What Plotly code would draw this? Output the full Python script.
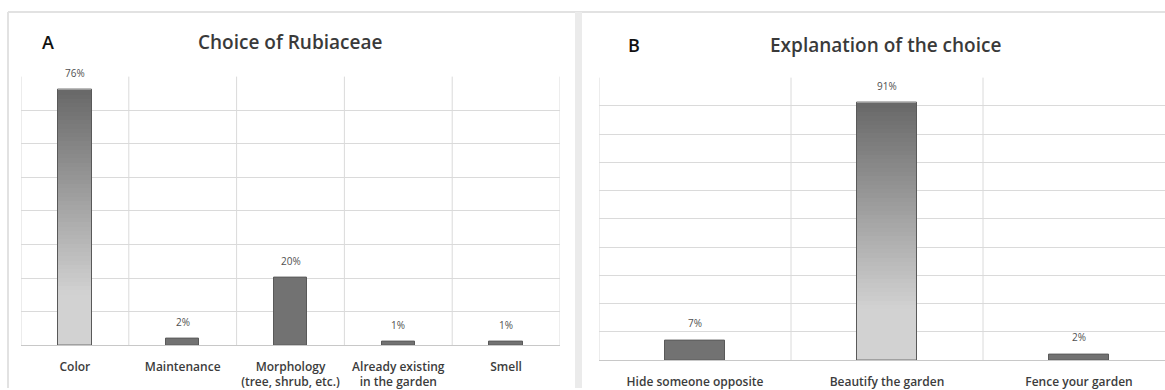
import plotly.graph_objects as go

# Panel A: choice of Rubiaceae
choice_labels = ["Color", "Maintenance", "Morphology<br>(tree, shrub, etc.)",
                 "Already existing<br>in the garden", "Smell"]
choice_values = [76, 2, 20, 1, 1]

# Panel B: explanation of the choice
reason_labels = ["Hide someone opposite", "Beautify the garden", "Fence your garden"]
reason_values = [7, 91, 2]

W, H = 1165, 390
GRID = "#dadada"
BAR = "#727272"
EDGE = "#595959"
TXT = "#3c3c3c"
FONT = "Open Sans"


def px_x(p):
    return p / W


def px_y(p):
    return 1 - p / H


def gradient_colour(t, dark=0x68, light=0xd2, reach=0.8):
    f = min(1.0, t / reach)
    v = int(round(dark + (light - dark) * f))
    return f"rgb({v},{v},{v})"


fig = go.Figure()


def add_panel(labels, values, xa, ya, xname, yname, ymax, x_end, n_slices=60):
    n = len(values)
    xs = list(range(n))
    top = max(range(n), key=lambda i: values[i])

    # gradient body of the tallest bar, built from stacked slices of its value
    v = values[top]
    step = v / n_slices
    fig.add_trace(go.Bar(
        x=[top] * n_slices,
        y=[step] * n_slices,
        base=[v - (k + 1) * step for k in range(n_slices)],
        width=0.31,
        marker=dict(color=[gradient_colour((k + 0.5) / n_slices) for k in range(n_slices)],
                    line=dict(width=0)),
        xaxis=xname, yaxis=yname, showlegend=False, hoverinfo="skip",
    ))
    # all bars: solid fill for the others, outline for every bar
    fig.add_trace(go.Bar(
        x=xs, y=values, width=0.31,
        marker=dict(color=["rgba(0,0,0,0)" if i == top else BAR for i in range(n)],
                    line=dict(color=EDGE, width=1)),
        xaxis=xname, yaxis=yname, showlegend=False,
        hovertemplate="%{y}%<extra></extra>",
    ))
    # value labels
    for i, val in enumerate(values):
        fig.add_annotation(
            x=i, y=val, xref=xname, yref=yname, text=f"{val}%",
            showarrow=False, xanchor="center", yanchor="bottom", yshift=8,
            font=dict(family=FONT, size=10, color="#505050"),
        )
    # vertical separators between categories
    for k in range(n + 1):
        xv = k - 0.5
        fig.add_shape(type="line", x0=xv, x1=xv, y0=0, y1=1,
                      xref=xname, yref=f"{yname} domain",
                      line=dict(color=GRID, width=1), layer="below")

    fig.layout[xa].update(
        range=[-0.5, x_end], tickvals=xs, ticktext=labels, showgrid=False,
        zeroline=False, showline=True, linecolor="#c8c8c8", ticks="",
        ticklabelstandoff=10, fixedrange=True,
    )
    fig.layout[ya].update(
        range=[0, ymax], dtick=10, showgrid=True, gridcolor=GRID, gridwidth=1,
        showticklabels=False, zeroline=False, showline=False, ticks="",
        fixedrange=True,
    )


fig.update_layout(
    xaxis=dict(domain=[px_x(21), px_x(560)], anchor="y",
               tickfont=dict(family=FONT, size=12, color=TXT, weight=600)),
    yaxis=dict(domain=[px_y(347), px_y(77)], anchor="x"),
    xaxis2=dict(domain=[px_x(599), 1.0], anchor="y2",
                tickfont=dict(family=FONT, size=12, color=TXT, weight=600)),
    yaxis2=dict(domain=[px_y(362), px_y(78)], anchor="x2"),
)

add_panel(choice_labels, choice_values, "xaxis", "yaxis", "x", "y", 80, 4.5)
add_panel(reason_labels, reason_values, "xaxis2", "yaxis2", "x2", "y2", 100,
          -0.5 + (1165 - 599) / 192)

# panel frames and the divider between them
frame = dict(color="#e2e2e2", width=2)
fig.add_shape(type="line", xref="paper", yref="paper",
              x0=px_x(8), x1=1, y0=px_y(12), y1=px_y(12), line=frame)
fig.add_shape(type="line", xref="paper", yref="paper",
              x0=px_x(8), x1=px_x(8), y0=px_y(12), y1=0, line=frame)
fig.add_shape(type="rect", xref="paper", yref="paper",
              x0=px_x(575), x1=px_x(582), y0=px_y(12), y1=0,
              fillcolor="#ebebeb", line=dict(width=0))

# panel letters and titles
heads = [
    ("A", 48, 42, 18, "#111111"),
    ("Choice of Rubiaceae", 290, 42, 19, "#3a3a3a"),
    ("B", 634, 45, 18, "#111111"),
    ("Explanation of the choice", 885, 45, 19, "#3a3a3a"),
]
for text, hx, hy, size, colour in heads:
    fig.add_annotation(x=px_x(hx), y=px_y(hy), xref="paper", yref="paper",
                       text=text, showarrow=False,
                       xanchor="center", yanchor="middle",
                       font=dict(family=FONT, size=size, color=colour, weight=600))

fig.update_layout(
    width=W, height=H, margin=dict(l=0, r=0, t=0, b=0),
    paper_bgcolor="white", plot_bgcolor="white",
    barmode="overlay", bargap=0, showlegend=False,
    font=dict(family=FONT, color=TXT),
)

fig.write_html("out.html")
